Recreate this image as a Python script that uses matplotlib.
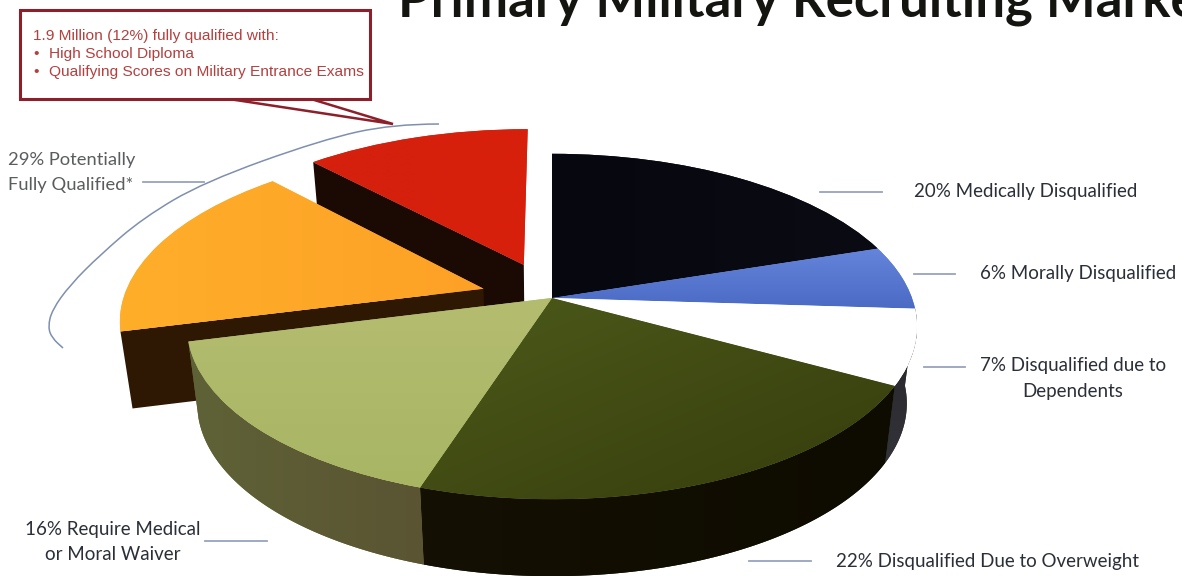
import numpy as np
import matplotlib
matplotlib.use("Agg")
import matplotlib.pyplot as plt
from matplotlib.patches import Polygon, Rectangle, PathPatch
from matplotlib.path import Path
from matplotlib.transforms import Transform, Affine2D

# Share of the recruiting population, clockwise from twelve o'clock
segments = ["Medically Disqualified", "Morally Disqualified", "Dependents",
            "Overweight", "Waiver", "Potentially Qualified", "Fully Qualified"]
shares = [20, 6, 7, 22, 16, 17, 12]
explode = [0, 0, 0, 0, 0, 0.20, 0.22]

# Face gradient (start colour, end colour, x weight, y weight)
faces = [("#07070f", "#0b0b14", 1, 0),
         ("#6585dc", "#4a6ac4", 0, 1),
         ("#ffffff", "#ffffff", 0, 1),
         ("#4c5a1a", "#363c0c", 0.5, 0.5),
         ("#b4bc70", "#a8b664", 0, 1),
         ("#ffae2a", "#fda126", 1, 0),
         ("#d4200e", "#d8200c", 1, 0)]
rim_colours = {2: ("#242428", "#33333a", 0, 1),
               3: ("#141003", "#0e0b00", 1, 0),
               4: ("#5f6236", "#5a5433", 1, 0)}
radial_colours = {5: "#2e1703", 6: "#1b0a04"}

CX, CY, RX, RY = 552.0, 298.0, 360.0, 168.0
TILT = 0.165
DEPTH = 77.0
BASE_SCALE = 0.972


class Tilt(Transform):
    """Perspective of the unit pie plane: the near side reads larger."""
    input_dims = 2
    output_dims = 2
    has_inverse = False

    def transform_non_affine(self, values):
        v = np.asarray(values, dtype=float)
        w = 1.0 + TILT * v[:, 1]
        return np.column_stack([v[:, 0] / w, v[:, 1] / w])


to_pixels = Tilt() + Affine2D().scale(RX, -RY).translate(CX, CY)


def top_points(unit_xy):
    return to_pixels.transform(unit_xy)


def base_points(unit_xy):
    p = top_points(unit_xy)
    return np.column_stack([CX + (p[:, 0] - CX) * BASE_SCALE, p[:, 1] + DEPTH])


def paint(patch, verts, style, zorder):
    """Fill a patch with a linear gradient clipped to its outline."""
    c0, c1, wx, wy = style
    x0, y0 = verts.min(axis=0)
    x1, y1 = verts.max(axis=0)
    fx, fy = np.meshgrid(np.linspace(0, 1, 64), np.linspace(0, 1, 64))
    t = np.clip(wx * fx + wy * fy, 0, 1)[..., None]
    a = np.array(matplotlib.colors.to_rgb(c0))
    b = np.array(matplotlib.colors.to_rgb(c1))
    img = ax.imshow(a * (1 - t) + b * t, extent=(x0, x1, y1, y0), aspect="auto",
                    interpolation="bilinear", zorder=zorder)
    img.set_clip_path(patch)


fig = plt.figure(figsize=(11.82, 5.76), dpi=100, facecolor="white")
ax = fig.add_axes([0, 0, 1, 1])

wedges, _ = ax.pie(shares, explode=explode, startangle=90, counterclock=False,
                   colors=[f[0] for f in faces], radius=1.0,
                   wedgeprops=dict(linewidth=0))

ax.set_aspect("auto")
ax.set_xlim(0, 1182)
ax.set_ylim(576, 0)
ax.axis("off")

edges = np.concatenate([[0], np.cumsum(shares)]) / sum(shares) * 2 * np.pi
main_z = 30
for i, w in enumerate(wedges):
    base_z = {5: 20, 6: 10}.get(i, main_z)
    mid = 0.5 * (edges[i] + edges[i + 1])
    ox, oy = explode[i] * np.sin(mid), explode[i] * np.cos(mid)
    th = np.linspace(edges[i], edges[i + 1], 80)
    arc = np.column_stack([ox + np.sin(th), oy + np.cos(th)])

    # Side walls sit under the face of the same slice
    if i in rim_colours:
        verts = np.vstack([top_points(arc), base_points(arc)[::-1]])
        style = rim_colours[i]
        wall = Polygon(verts, closed=True, fc=style[0], lw=0, zorder=base_z)
        ax.add_patch(wall)
        paint(wall, verts, style, base_z + 0.1)
    if i in radial_colours:
        leading = np.array([[ox, oy], arc[0]])
        verts = np.vstack([top_points(leading), base_points(leading)[::-1]])
        ax.add_patch(Polygon(verts, closed=True, fc=radial_colours[i], lw=0,
                             zorder=base_z))

    w.set_transform(to_pixels + ax.transData)
    w.set_zorder(base_z + 1)
    face_verts = np.vstack([top_points(arc), top_points(np.array([[ox, oy]]))])
    paint(w, face_verts, faces[i], base_z + 1.1)

# Thin leader lines from slices to their captions
leader_colour = "#98a3bf"
leaders = [((143, 204), 182), ((820, 882), 192), ((914, 955), 274),
           ((924, 965), 367), ((205, 267), 541), ((749, 811), 561)]
for (xa, xb), y in leaders:
    ax.plot([xa, xb], [y, y], color=leader_colour, lw=1.3, zorder=40)

# Curved bracket around the two qualified slices
bracket = np.array([(439, 124), (393, 124), (321, 140), (204, 182), (143, 218),
                    (100, 255), (70, 285), (52, 310), (48, 327), (52, 338), (63, 348)],
                   dtype=float)
verts = [bracket[0]]
codes = [Path.MOVETO]
for j in range(1, len(bracket) - 1):
    verts += [bracket[j], 0.5 * (bracket[j] + bracket[j + 1])]
    codes += [Path.CURVE3, Path.CURVE3]
verts += [bracket[-1]]
codes += [Path.LINETO]
ax.add_patch(PathPatch(Path(np.array(verts), codes), fc="none", ec="#7f8fae",
                       lw=1.1, zorder=40))

# Callout box with its pointer
box_red = "#8c1f2a"
ax.add_patch(Polygon([(229, 99), (393, 124), (311, 99)], closed=True, fc="white",
                     ec=box_red, lw=1.8, zorder=41, joinstyle="miter"))
ax.add_patch(Rectangle((20, 10), 350, 89, fc="white", ec=box_red, lw=2.2, zorder=42))
ax.plot([231, 309], [99, 99], color=box_red, lw=2.2, zorder=43)

callout_kw = dict(family="Liberation Sans", color="#b4403f", fontsize=11.15, va="center",
                  zorder=44)
ax.text(33, 36, "1.9 Million (12%) fully qualified with:", **callout_kw)
ax.text(33, 54, "•", **callout_kw)
ax.text(49, 54, "High School Diploma", **callout_kw)
ax.text(33, 72, "•", **callout_kw)
ax.text(49, 72, "Qualifying Scores on Military Entrance Exams", **callout_kw)

# Captions
cap = dict(family="Lato", fontsize=13.5, va="center", color="#2b2f38", zorder=44)
ax.text(914, 192, "20% Medically Disqualified", ha="left", **cap)
ax.text(980, 274, "6% Morally Disqualified", ha="left", **cap)
ax.text(1073, 366, "7% Disqualified due to", ha="center", **cap)
ax.text(1073, 391, "Dependents", ha="center", **cap)
ax.text(113, 530, "16% Require Medical", ha="center", **cap)
ax.text(113, 555, "or Moral Waiver", ha="center", **cap)
ax.text(836, 561, "22% Disqualified Due to Overweight", ha="left", **cap)
cap_grey = dict(cap, color="#5a5c5e", fontsize=13.2)
ax.text(8, 160, "29% Potentially", ha="left", **cap_grey)
ax.text(8, 185, "Fully Qualified*", ha="left", **cap_grey)

ax.text(398, 16, "Primary Military Recruiting Market", family="Lato", weight="bold",
        fontsize=38, color="#141410", ha="left", va="baseline", zorder=44)

fig.savefig("out.png", dpi=100)
